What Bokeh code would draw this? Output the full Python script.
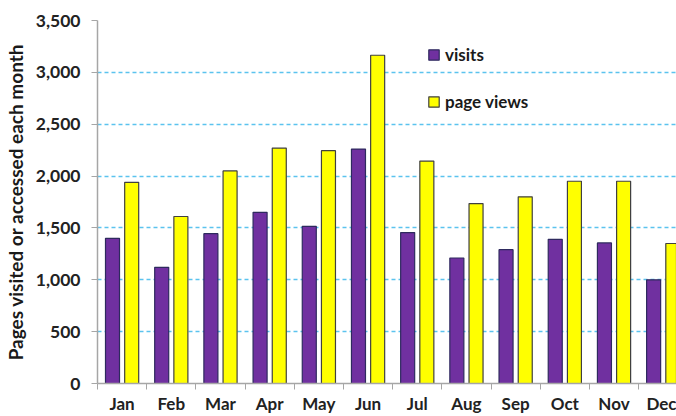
from bokeh.plotting import figure
from bokeh.models import ColumnDataSource, FixedTicker, Range1d, NumeralTickFormatter, Legend, LegendItem
from bokeh.embed import file_html
from bokeh.resources import INLINE

months = ["Jan", "Feb", "Mar", "Apr", "May", "Jun", "Jul", "Aug", "Sep", "Oct", "Nov", "Dec"]
visits = [1400, 1120, 1445, 1650, 1515, 2260, 1455, 1210, 1290, 1390, 1355, 1000]
page_views = [1940, 1610, 2050, 2270, 2245, 3165, 2145, 1735, 1800, 1950, 1950, 1350]
y_ticks = [0, 500, 1000, 1500, 2000, 2500, 3000, 3500]

centers = [i + 0.5 for i in range(len(months))]
src = ColumnDataSource(dict(
    xv=[c - 0.195 for c in centers],
    xp=[c + 0.195 for c in centers],
    visits=visits,
    pv=page_views,
))

FONT = "Lato"
p = figure(width=676, height=416, output_backend="svg", toolbar_location=None,
           x_range=Range1d(0, 11.77), y_range=Range1d(0, 3500),
           min_border_left=97, min_border_right=0, min_border_top=20, min_border_bottom=33)
p.outline_line_color = None
p.background_fill_color = "white"

rv = p.vbar(x="xv", top="visits", width=0.285, source=src, fill_color="#7030A0",
            line_color="#2E2A5E", line_width=1.2)
rp = p.vbar(x="xp", top="pv", width=0.285, source=src, fill_color="#FFFF00",
            line_color="#404040", line_width=1.2)

# y axis
p.yaxis.ticker = FixedTicker(ticks=y_ticks)
p.yaxis.formatter = NumeralTickFormatter(format="0,0")
p.yaxis.axis_label = "Pages visited or accessed each month"
p.yaxis.axis_label_text_font = FONT
p.yaxis.axis_label_text_font_style = "bold"
p.yaxis.axis_label_text_font_size = "19px"
p.yaxis.axis_label_text_color = "#1a1a1a"
p.yaxis.axis_label_standoff = 6
p.yaxis.major_label_text_font = FONT
p.yaxis.major_label_text_font_style = "bold"
p.yaxis.major_label_text_font_size = "17.5px"
p.yaxis.major_label_text_color = "#222222"
p.yaxis.axis_line_color = "#a6a6a6"
p.yaxis.axis_line_width = 1.5
p.yaxis.major_tick_line_color = "#a6a6a6"
p.yaxis.major_tick_out = 6
p.yaxis.major_tick_in = 0
p.yaxis.minor_tick_line_color = None
p.yaxis.major_label_standoff = 11

# x axis
p.xaxis.ticker = FixedTicker(ticks=centers, minor_ticks=list(range(13)))
p.xaxis.major_label_overrides = {c: m for c, m in zip(centers, months)}
p.xaxis.major_label_text_font = FONT
p.xaxis.major_label_text_font_style = "bold"
p.xaxis.major_label_text_font_size = "17px"
p.xaxis.major_label_text_color = "#222222"
p.xaxis.axis_line_color = "#a6a6a6"
p.xaxis.axis_line_width = 1.5
p.xaxis.major_tick_line_color = None
p.xaxis.major_tick_out = 0
p.xaxis.major_tick_in = 0
p.xaxis.minor_tick_line_color = "#a6a6a6"
p.xaxis.minor_tick_out = 6
p.xaxis.minor_tick_in = 0
p.xaxis.major_label_standoff = 3

p.xgrid.grid_line_color = None
p.ygrid.grid_line_color = "#5BC3EE"
p.ygrid.grid_line_dash = "4 3"
p.ygrid.grid_line_width = 1.3

legend = Legend(items=[LegendItem(label="visits", renderers=[rv]),
                       LegendItem(label="page views", renderers=[rp])],
                location=(330, 271))
legend.label_text_font = FONT
legend.label_text_font_style = "bold"
legend.label_text_font_size = "17px"
legend.label_text_color = "#1a1a1a"
legend.glyph_width = 13
legend.glyph_height = 13
legend.spacing = 26
legend.label_standoff = 5
legend.padding = 0
legend.margin = 0
legend.border_line_color = None
legend.background_fill_alpha = 0
p.add_layout(legend)

open("out.html", "w").write(file_html(p, INLINE))
